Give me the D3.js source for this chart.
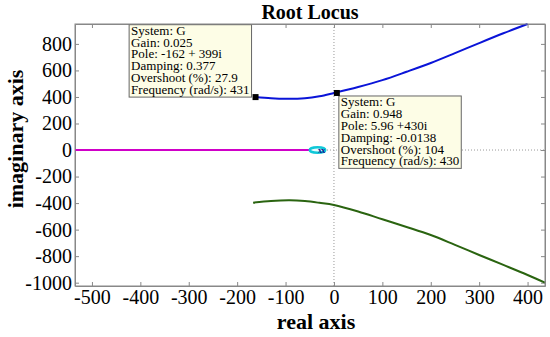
<!DOCTYPE html>
<meta charset="utf-8">
<script src="https://d3js.org/d3.v7.min.js"></script>
<style>
  body { margin: 0; background: #fff; }
  svg text { font-family: "Liberation Serif", "Times New Roman", Times, "DejaVu Serif", serif; }
</style>
<div id="my_dataviz"></div>
<script>

// chart data
var realTicks = [-500, -400, -300, -200, -100, 0, 100, 200, 300, 400];
var imagTicks = [-1000, -800, -600, -400, -200, 0, 200, 400, 600, 800];

// upper branch (blue)
var blueRe = [-162, -130, -100, -60, -30, 0, 50, 100, 150, 200, 250, 300, 350, 400];
var blueIm = [399, 390, 386, 390, 405, 430, 475, 527, 590, 656, 730, 806, 880, 950];

// lower branch (green)
var greenRe = [-167, -130, -91, -60, -30, 0, 50, 100, 150, 200, 250, 300, 350, 400, 436];
var greenIm = [-397, -384, -379, -385, -398, -414, -463, -522, -580, -641, -715, -791, -866, -942, -1000];

// real axis branch (magenta)
var magentaRe = [-535, -50];
var magentaIm = [0, 0];

// small loop near origin (cyan) and poles inside it
var loopRe = [-50, -18];
var loopIm = [-20, 20];
var poleRe = [-29, -22];

// data tips
var tip1Point = [-162, 399];
var tip1Lines = ["System: G", "Gain: 0.025", "Pole: -162 + 399i", "Damping: 0.377", "Overshoot (%): 27.9", "Frequency (rad/s): 431"];
var tip2Point = [5.96, 430];
var tip2Lines = ["System: G", "Gain: 0.948", "Pole: 5.96 +430i", "Damping: -0.0138", "Overshoot (%): 104", "Frequency (rad/s): 430"];

var serif = "'Liberation Serif', 'Times New Roman', Times, 'DejaVu Serif', serif";

var margin = {top: 24, right: 5, bottom: 51, left: 75},
    width = 550 - margin.left - margin.right,
    height = 337 - margin.top - margin.bottom;

var svg = d3.select("#my_dataviz")
  .append("svg")
    .attr("width", 550)
    .attr("height", 337)
    .attr("font-family", serif)
  .append("g")
    .attr("transform", "translate(" + margin.left + "," + margin.top + ")");

var x = d3.scaleLinear().domain([-535, 436]).range([0, width]);
var y = d3.scaleLinear().domain([-1025, 950]).range([height, 0]);

// dotted zero lines
svg.append("line")
  .attr("x1", x(0)).attr("x2", x(0)).attr("y1", 0).attr("y2", height)
  .attr("stroke", "#999").attr("stroke-dasharray", "1,2");
svg.append("line")
  .attr("x1", 0).attr("x2", width).attr("y1", y(0)).attr("y2", y(0))
  .attr("stroke", "#999").attr("stroke-dasharray", "1,2");

// axes, ticks pointing inward
function styleAxis(g) {
  g.attr("font-family", serif).attr("font-size", 20);
  g.select(".domain").attr("stroke", "#888");
  g.selectAll(".tick line").attr("stroke", "#888");
  g.selectAll(".tick text").attr("fill", "#000");
}
var fmt = function(d) { return String(d); };

svg.append("g")
  .attr("transform", "translate(0," + height + ")")
  .call(d3.axisBottom(x).tickValues(realTicks).tickSize(-4).tickSizeOuter(0).tickPadding(4).tickFormat(fmt))
  .call(styleAxis);
svg.append("g")
  .call(d3.axisLeft(y).tickValues(imagTicks).tickSize(-4).tickSizeOuter(0).tickPadding(3).tickFormat(fmt))
  .call(styleAxis);
svg.append("g")
  .call(d3.axisTop(x).tickValues(realTicks).tickSize(-4).tickSizeOuter(0).tickFormat(""))
  .call(styleAxis);
svg.append("g")
  .attr("transform", "translate(" + width + ",0)")
  .call(d3.axisRight(y).tickValues(imagTicks).tickSize(-4).tickSizeOuter(0).tickFormat(""))
  .call(styleAxis);

// locus branches
var line = d3.line()
  .x(function(d) { return x(d[0]); })
  .y(function(d) { return y(d[1]); })
  .curve(d3.curveCatmullRom);

svg.append("path")
  .datum(d3.zip(magentaRe, magentaIm))
  .attr("d", line)
  .attr("stroke", "#d000c8").attr("stroke-width", 2).attr("fill", "none");

svg.append("path")
  .datum(d3.zip(blueRe, blueIm))
  .attr("d", line)
  .attr("stroke", "#0a14d8").attr("stroke-width", 2).attr("fill", "none");

svg.append("path")
  .datum(d3.zip(greenRe, greenIm))
  .attr("d", line)
  .attr("stroke", "#2a6410").attr("stroke-width", 2).attr("fill", "none");

svg.append("ellipse")
  .attr("cx", x((loopRe[0] + loopRe[1]) / 2))
  .attr("cy", y((loopIm[0] + loopIm[1]) / 2))
  .attr("rx", (x(loopRe[1]) - x(loopRe[0])) / 2)
  .attr("ry", (y(loopIm[0]) - y(loopIm[1])) / 2)
  .attr("stroke", "#10c8d8").attr("stroke-width", 2.5).attr("fill", "#e8fbff");

svg.selectAll(".pole")
  .data(poleRe)
  .enter()
  .append("text")
    .attr("class", "pole")
    .attr("x", function(d) { return x(d); })
    .attr("y", y(0) + 2.5)
    .attr("text-anchor", "middle")
    .style("font-size", "8px")
    .style("font-weight", "bold")
    .attr("fill", "#10108a")
    .text("x");

// data tips
function dataTip(point, lines, placeLeft) {
  var px = x(point[0]), py = y(point[1]);
  var g = svg.append("g");
  var rect = g.append("rect");
  var txt = g.append("g");
  txt.selectAll("text")
    .data(lines)
    .enter()
    .append("text")
      .attr("x", 0)
      .attr("y", function(d, i) { return i * 11.9; })
      .attr("font-family", serif)
      .style("font-size", "13px")
      .attr("fill", "#000")
      .text(function(d) { return d; });
  var bb = txt.node().getBBox();
  var w = bb.width + 4, h = 6 * 11.9 + 1;
  var bx, by;
  if (placeLeft) { bx = px - 4 - w; by = py - h; }
  else { bx = px + 2; by = py + 3; }
  rect.attr("x", bx).attr("y", by).attr("width", w).attr("height", h)
    .attr("fill", "#fdfde6").attr("stroke", "#666").attr("stroke-width", 1);
  txt.attr("transform", "translate(" + (bx + 2) + "," + (by + 10) + ")");
  svg.append("rect")
    .attr("x", px - 3).attr("y", py - 3).attr("width", 6).attr("height", 6)
    .attr("fill", "#000");
}
dataTip(tip1Point, tip1Lines, true);
dataTip(tip2Point, tip2Lines, false);

// plot frame
svg.append("rect")
  .attr("width", width).attr("height", height)
  .attr("fill", "none").attr("stroke", "#888");

// titles
svg.append("text")
  .attr("x", width / 2).attr("y", -5)
  .attr("text-anchor", "middle")
  .style("font-size", "20px").style("font-weight", "bold")
  .text("Root Locus");

svg.append("text")
  .attr("x", width / 2 + 6).attr("y", height + 43)
  .attr("text-anchor", "middle")
  .style("font-size", "22px").style("font-weight", "bold")
  .text("real axis");

svg.append("text")
  .attr("transform", "translate(" + (-margin.left + 23) + "," + (height / 2 - 16) + ") rotate(-90)")
  .attr("text-anchor", "middle")
  .style("font-size", "22px").style("font-weight", "bold")
  .text("imaginary axis");

</script>
